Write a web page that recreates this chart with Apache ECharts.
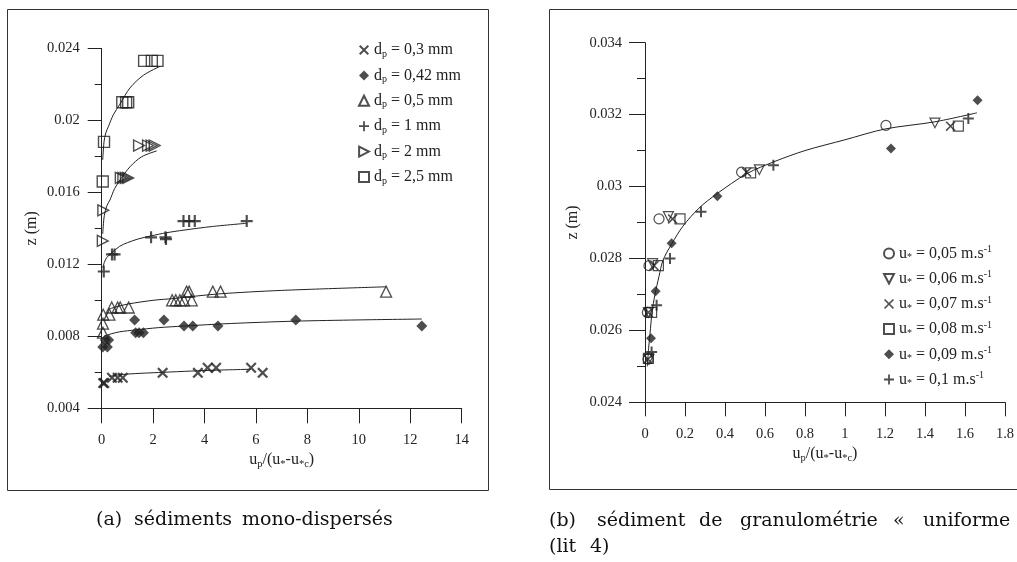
<!DOCTYPE html>
<html><head><meta charset="utf-8">
<script src="https://cdn.jsdelivr.net/npm/echarts@6/dist/echarts.min.js"></script>
<style>html,body{margin:0;padding:0;background:#fff}#c{width:1017px;height:562px}</style>
</head><body><div id="c"></div>
<script>
// ---------- Chart (a) : data ----------
const leftDiam = ['0,3', '0,42', '0,5', '1', '2', '2,5'];
const x03 = [0.06, 0.1, 0.4, 0.62, 0.82, 2.37, 3.74, 4.12, 4.45, 5.81, 6.26];
const y03 = [0.0054, 0.0054, 0.0057, 0.0057, 0.0057, 0.00597, 0.00597, 0.00625, 0.00625, 0.00625, 0.00597];
const x042 = [0.04, 0.22, 0.14, 0.27, 1.28, 2.42, 1.32, 1.45, 1.62, 3.2, 3.54, 4.52, 7.55, 12.45];
const y042 = [0.0074, 0.0074, 0.0078, 0.0078, 0.0089, 0.0089, 0.0082, 0.0082, 0.0082, 0.00857, 0.00857, 0.00857, 0.0089, 0.00857];
const x05 = [0.05, 0.05, 0.06, 0.3, 0.39, 0.62, 0.72, 1.05, 2.74, 2.88, 3.04, 3.2, 3.5, 3.3, 3.4, 4.32, 4.62, 11.06];
const y05 = [0.0082, 0.0087, 0.0092, 0.0092, 0.0096, 0.0096, 0.0096, 0.0096, 0.01, 0.01, 0.01, 0.01, 0.01, 0.01048, 0.01048, 0.01048, 0.01048, 0.01048];
const x1 = [0.08, 0.4, 0.5, 1.92, 2.48, 2.5, 3.18, 3.4, 3.62, 5.64];
const y1 = [0.0116, 0.01255, 0.01255, 0.0135, 0.0135, 0.0134, 0.0144, 0.0144, 0.0144, 0.0144];
const x2 = [0.04, 0.06, 0.74, 0.84, 0.94, 1.03, 1.45, 1.8, 1.94, 2.06];
const y2 = [0.0133, 0.015, 0.0168, 0.0168, 0.0168, 0.0168, 0.0186, 0.0186, 0.0186, 0.0186];
const x25 = [0.04, 0.09, 0.8, 0.95, 1.03, 1.65, 1.95, 2.17];
const y25 = [0.0166, 0.0188, 0.021, 0.021, 0.021, 0.0233, 0.0233, 0.0233];
// fitted curves
const f03x = [0.3, 0.6, 1.0, 1.6, 2.4, 3.5, 4.5, 5.8];
const f03y = [0.00577, 0.00585, 0.0059, 0.00595, 0.006, 0.00607, 0.00612, 0.00617];
const f042x = [0.04, 0.1, 0.2, 0.35, 0.7, 1.3, 2.2, 3.2, 5, 7.5, 10, 12.45];
const f042y = [0.0079, 0.00799, 0.00806, 0.00813, 0.00825, 0.00835, 0.00848, 0.00857, 0.00871, 0.00884, 0.00891, 0.00896];
const f05x = [0.25, 0.6, 1.05, 2, 2.8, 4.5, 7, 11.06];
const f05y = [0.0095, 0.00965, 0.0098, 0.01, 0.0101, 0.01035, 0.01055, 0.01075];
const f1x = [0.05, 0.1, 0.2, 0.4, 0.7, 1, 1.4, 1.9, 2.5, 3.2, 4.3, 5.64];
const f1y = [0.0118, 0.0121, 0.01238, 0.01265, 0.013, 0.0132, 0.0134, 0.01357, 0.01375, 0.0139, 0.0141, 0.01428];
const f2x = [0.04, 0.1, 0.2, 0.32, 0.5, 0.71, 1.1, 1.56, 2.14];
const f2y = [0.0137, 0.0147, 0.01525, 0.01557, 0.0162, 0.01668, 0.01742, 0.01798, 0.0183];
const f25x = [0.04, 0.09, 0.16, 0.26, 0.45, 0.71, 1.1, 1.62, 2.27];
const f25y = [0.0178, 0.0188, 0.0193, 0.01965, 0.0203, 0.0209, 0.0218, 0.0225, 0.023];
const leftTicksX = [0, 2, 4, 6, 8, 10, 12, 14];

// ---------- Chart (b) : data ----------
const rightSpeeds = ['0,05', '0,06', '0,07', '0,08', '0,09', '0,1'];
const r05x = [1.205, 0.483, 0.07, 0.02, 0.012, 0.015];
const r05y = [0.0317, 0.0304, 0.0291, 0.0278, 0.0265, 0.0252];
const r06x = [1.45, 0.572, 0.117, 0.038, 0.017, 0.02];
const r06y = [0.03177, 0.03047, 0.02917, 0.02786, 0.0265, 0.0252];
const r07x = [1.528, 0.508, 0.138, 0.045, 0.017, 0.015];
const r07y = [0.03168, 0.0304, 0.0291, 0.0278, 0.0265, 0.0252];
const r08x = [1.567, 0.528, 0.175, 0.067, 0.033, 0.017];
const r08y = [0.03168, 0.03038, 0.0291, 0.0278, 0.0265, 0.02522];
const r09x = [1.663, 1.23, 0.362, 0.133, 0.053, 0.03];
const r09y = [0.0324, 0.03106, 0.02973, 0.02842, 0.02709, 0.02578];
const r10x = [1.617, 0.642, 0.28, 0.125, 0.058, 0.033];
const r10y = [0.03189, 0.03059, 0.0293, 0.028, 0.0267, 0.0254];
const frx = [0.012, 0.018, 0.025, 0.035, 0.05, 0.07, 0.09, 0.133, 0.19, 0.27, 0.36, 0.51, 0.65, 0.8, 1.0, 1.2, 1.45, 1.66];
const fry = [0.0250, 0.0255, 0.0259, 0.0265, 0.0270, 0.0275, 0.02795, 0.0284, 0.0289, 0.0294, 0.0298, 0.03036, 0.0307, 0.0310, 0.0313, 0.0316, 0.0318, 0.03205];

const captionAWords = ['(a)', 'sédiments', 'mono-dispersés'];
const captionBWords = ['(b)', 'sédiment', 'de', 'granulométrie', '«', 'uniforme', '»'];
const captionB2Words = ['(lit', '4)'];

// ---------- helpers ----------
const zip = (xs, ys) => xs.map((x, i) => [x, ys[i]]);
const FONT = 'Liberation Serif';
const INK = '#222';
const PLUS = 'path://M4.1,0H5.9V4.1H10V5.9H5.9V10H4.1V5.9H0V4.1H4.1Z';
const CROSS = 'path://M0,1.4L1.4,0L5,3.6L8.6,0L10,1.4L6.4,5L10,8.6L8.6,10L5,6.4L1.4,10L0,8.6L3.6,5Z';
const CROSS_T = 'path://M0,1.1L1.1,0L5,3.9L8.9,0L10,1.1L6.1,5L10,8.9L8.9,10L5,6.1L1.1,10L0,8.9L3.9,5Z';
const TRI_R = 'path://M0.6,0.6L9.2,5L0.6,9.4Z';
const TRI_D = 'path://M0.6,0.8L9.4,0.8L5,9.2Z';

const hollow = (w) => ({ color: 'rgba(0,0,0,0)', borderColor: INK, borderWidth: w });
const solid = { color: INK, borderWidth: 0 };

const leftNames = leftDiam.map(d => 'dp = ' + d + ' mm');
const rightNames = rightSpeeds.map(s => 'u* = ' + s + ' m.s-1');

const leftStyles = [
  { symbol: CROSS, symbolSize: 11, itemStyle: solid },
  { symbol: 'diamond', symbolSize: 11, itemStyle: solid },
  { symbol: 'triangle', symbolSize: 11, itemStyle: hollow(1.3) },
  { symbol: PLUS, symbolSize: 12, itemStyle: solid },
  { symbol: TRI_R, symbolSize: 11, itemStyle: hollow(1.4) },
  { symbol: 'rect', symbolSize: 11, itemStyle: hollow(1.4) }
];
const rightStyles = [
  { symbol: 'circle', symbolSize: 10, itemStyle: hollow(1.2) },
  { symbol: TRI_D, symbolSize: 10, itemStyle: hollow(1.2) },
  { symbol: CROSS_T, symbolSize: 10, itemStyle: solid },
  { symbol: 'rect', symbolSize: 10, itemStyle: hollow(1.2) },
  { symbol: 'diamond', symbolSize: 10, itemStyle: solid },
  { symbol: PLUS, symbolSize: 11, itemStyle: solid }
];
const leftPts = [zip(x03, y03), zip(x042, y042), zip(x05, y05), zip(x1, y1), zip(x2, y2), zip(x25, y25)];
const leftFits = [zip(f03x, f03y), zip(f042x, f042y), zip(f05x, f05y), zip(f1x, f1y), zip(f2x, f2y), zip(f25x, f25y)];
const rightPts = [zip(r05x, r05y), zip(r06x, r06y), zip(r07x, r07y), zip(r08x, r08y), zip(r09x, r09y), zip(r10x, r10y)];

const series = [];
leftFits.forEach((d, i) => series.push({
  name: 'fitL' + i, type: 'line', xAxisIndex: 0, yAxisIndex: 0, data: d, smooth: 0.3,
  symbol: 'none', lineStyle: { color: INK, width: 1 }, z: 1, silent: true
}));
series.push({
  name: 'fitR', type: 'line', xAxisIndex: 1, yAxisIndex: 1, data: zip(frx, fry), smooth: 0.3,
  symbol: 'none', lineStyle: { color: INK, width: 1 }, z: 1, silent: true
});
leftPts.forEach((d, i) => series.push(Object.assign({
  name: leftNames[i], type: 'scatter', xAxisIndex: 0, yAxisIndex: 0, data: d, z: 3, symbolKeepAspect: true
}, leftStyles[i])));
rightPts.forEach((d, i) => series.push(Object.assign({
  name: rightNames[i], type: 'scatter', xAxisIndex: 1, yAxisIndex: 1, data: d, z: 3, symbolKeepAspect: true
}, rightStyles[i])));

const richBase = {
  t: { fontFamily: FONT, fontSize: 16, color: INK, lineHeight: 18 },
  s: { fontFamily: FONT, fontSize: 10, color: INK, lineHeight: 10, verticalAlign: 'bottom' },
  p: { fontFamily: FONT, fontSize: 10, color: INK, lineHeight: 10, verticalAlign: 'top' }
};
const axisTitleRich = {
  t: { fontFamily: FONT, fontSize: 16, color: INK, lineHeight: 20 },
  s: { fontFamily: FONT, fontSize: 10.5, color: INK, lineHeight: 12, verticalAlign: 'bottom' }
};
const xTitle = '{t|u}{s|p}{t|/(u}{s|*}{t|-u}{s|*c}{t|)}';

function axisBase(extra) {
  return Object.assign({
    type: 'value',
    axisLine: { show: true, onZero: false, lineStyle: { color: INK, width: 1 } },
    splitLine: { show: false },
    nameTextStyle: { rich: axisTitleRich }
  }, extra);
}
const lab = (m) => ({ fontFamily: FONT, fontSize: 14.5, color: INK, margin: m });

const option = {
  animation: false,
  backgroundColor: '#fff',
  grid: [
    { left: 101.7, top: 48.3, width: 360, height: 360 },
    { left: 645, top: 42.7, width: 360, height: 359.6 }
  ],
  xAxis: [
    axisBase({
      gridIndex: 0, min: leftTicksX[0], max: leftTicksX[leftTicksX.length - 1], interval: 2,
      axisTick: { show: true, length: 15, lineStyle: { color: INK } },
      name: xTitle, nameLocation: 'middle', nameGap: 40, axisLabel: lab(24)
    }),
    axisBase({
      gridIndex: 1, min: 0, max: 1.8, interval: 0.2,
      axisTick: { show: true, length: 14, lineStyle: { color: INK } },
      name: xTitle, nameLocation: 'middle', nameGap: 41, axisLabel: lab(24)
    })
  ],
  yAxis: [
    axisBase({
      gridIndex: 0, min: 0.004, max: 0.024, interval: 0.004,
      axisTick: { show: true, length: 14, lineStyle: { color: INK } },
      minorTick: { show: true, splitNumber: 2, length: 7, lineStyle: { color: INK } },
      name: '{t|z (m)}', nameLocation: 'middle', nameGap: 60, nameRotate: 90, axisLabel: lab(22)
    }),
    axisBase({
      gridIndex: 1, min: 0.024, max: 0.034, interval: 0.002,
      axisTick: { show: true, length: 16, lineStyle: { color: INK } },
      minorTick: { show: true, splitNumber: 2, length: 8, lineStyle: { color: INK } },
      name: '{t|z (m)}', nameLocation: 'middle', nameGap: 62, nameRotate: 90, axisLabel: lab(23)
    })
  ],
  legend: [
    {
      data: leftNames, orient: 'vertical', left: 353, top: 37, itemWidth: 10, itemHeight: 10, itemGap: 8.4,
      formatter: n => '{t|d}{s|p}{t| = ' + leftDiam[leftNames.indexOf(n)] + ' mm}',
      textStyle: { rich: richBase }, selectedMode: false
    },
    {
      data: rightNames, orient: 'vertical', left: 878, top: 239.5, itemWidth: 10, itemHeight: 10, itemGap: 7.2,
      formatter: n => '{t|u}{s|*}{t| = ' + rightSpeeds[rightNames.indexOf(n)] + ' m.s}{p|-1}',
      textStyle: { rich: richBase }, selectedMode: false
    }
  ],
  graphic: [
    { type: 'rect', shape: { x: 7.5, y: 9.5, width: 481, height: 481 }, style: { fill: 'none', stroke: '#333', lineWidth: 1 }, silent: true },
    { type: 'rect', shape: { x: 549.5, y: 9.5, width: 520, height: 480 }, style: { fill: 'none', stroke: '#333', lineWidth: 1 }, silent: true }
  ],
  series: series
};
// caption words placed like the LaTeX captions (second one is justified)
const capFont = '19px "DejaVu Serif", serif';
const addWords = (words, xs, y) => words.forEach((w, i) => option.graphic.push({
  type: 'text', x: xs[i], y: y, silent: true,
  style: { text: w, font: capFont, fill: '#111', textVerticalAlign: 'middle' }
}));
addWords(captionAWords, [96, 134, 242], 520);
addWords(captionBWords, [549, 597, 699, 740, 893, 923, 1025], 521);
addWords(captionB2Words, [549, 590], 547);

const chart = echarts.init(document.getElementById('c'), null, { renderer: 'canvas' });
chart.setOption(option);
</script></body></html>
